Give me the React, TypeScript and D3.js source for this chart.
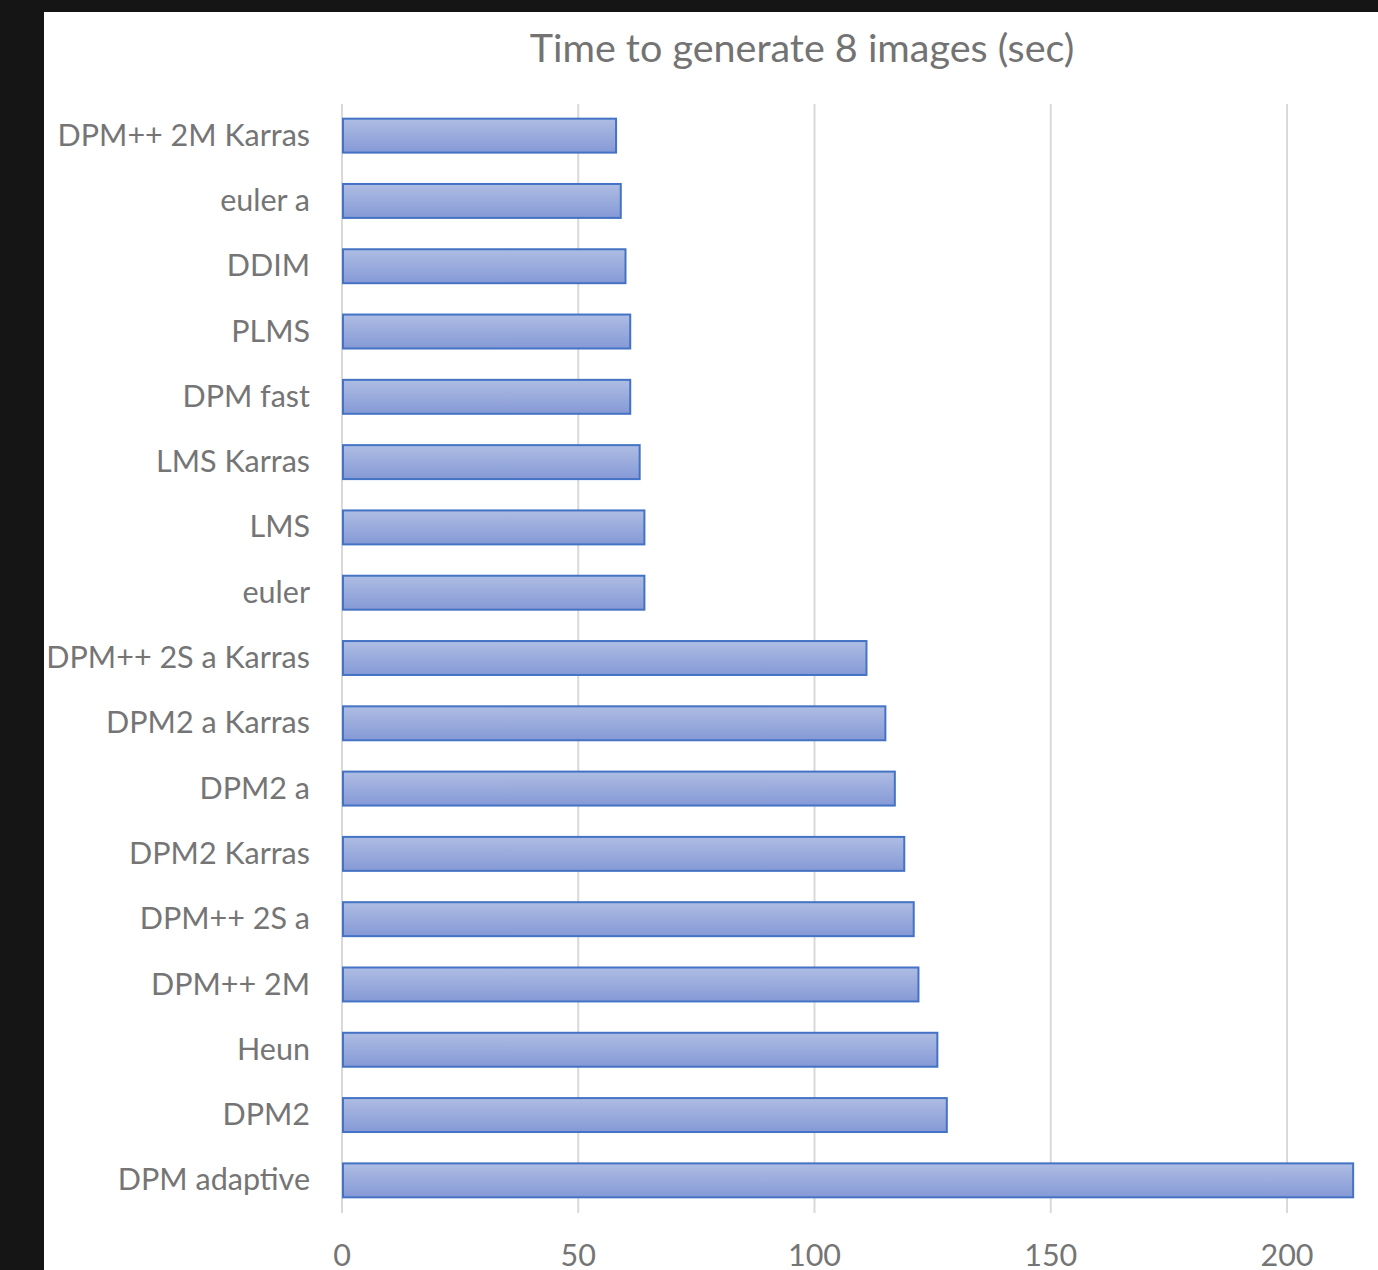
import React from "react";
import * as d3 from "d3";

const categories = [
  "DPM++ 2M Karras", "euler a", "DDIM", "PLMS", "DPM fast", "LMS Karras", "LMS", "euler",
  "DPM++ 2S a Karras", "DPM2 a Karras", "DPM2 a", "DPM2 Karras", "DPM++ 2S a", "DPM++ 2M",
  "Heun", "DPM2", "DPM adaptive",
];
const values = [58, 59, 60, 61, 61, 63, 64, 64, 111, 115, 117, 119, 121, 122, 126, 128, 214];
const ticks = [0, 50, 100, 150, 200];
const title = "Time to generate 8 images (sec)";

const W = 1378, H = 1270;
const FONT = "Lato, 'Open Sans', sans-serif";

export default function App() {
  const x = d3.scaleLinear().domain([0, 200]).range([342, 1287]);
  const y = d3.scaleBand<string>().domain(categories).range([103, 1213]).paddingInner(0.48).paddingOuter(0.24);
  return (
    <svg width={W} height={H} style={{ position: "absolute", left: 0, top: 0 }}>
      <defs>
        <linearGradient id="bg" x1="0" y1="0" x2="0" y2="1">
          <stop offset="0" stopColor="#aebde3" />
          <stop offset="1" stopColor="#8599d6" />
        </linearGradient>
      </defs>
      <rect x={0} y={0} width={W} height={H} fill="#151515" />
      <rect x={44} y={12} width={W - 44} height={H - 12} fill="#ffffff" />
      <text x={802} y={62} textAnchor="middle" fontFamily={FONT} fontSize={39.5} fill="#737373">{title}</text>
      {ticks.map((t) => (
        <g key={t}>
          <line x1={x(t)} x2={x(t)} y1={104} y2={1213} stroke="#d9d9d9" strokeWidth={2} />
          <text x={x(t)} y={1266} textAnchor="middle" fontFamily={FONT} fontSize={30.5} fill="#757575">{t}</text>
        </g>
      ))}
      {categories.map((c, i) => (
        <g key={c}>
          <rect x={x(0) + 1} y={y(c)!} width={x(values[i]) - x(0) - 1} height={y.bandwidth()}
            fill="url(#bg)" stroke="#4472c4" strokeWidth={2} />
          <text x={310} y={y(c)! + y.bandwidth() / 2} dy="0.33em" textAnchor="end"
            fontFamily={FONT} fontSize={30.5} fill="#757575">{c}</text>
        </g>
      ))}
    </svg>
  );
}
